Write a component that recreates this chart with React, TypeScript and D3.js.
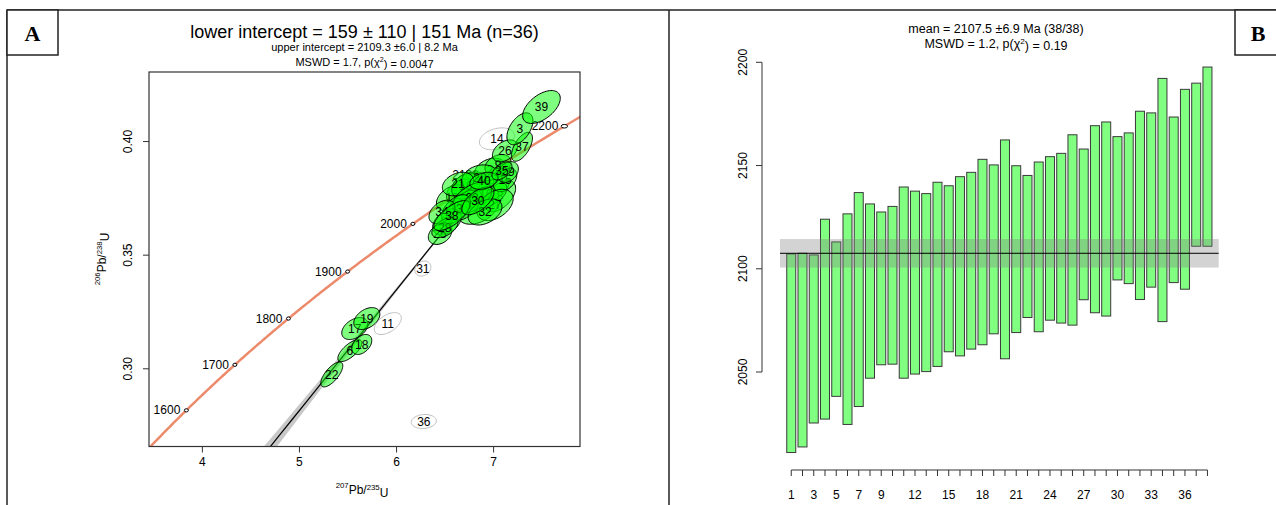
import React from 'react';
import * as d3 from 'd3';

// decay constants, per Ma
const L235 = 9.8485e-4;
const L238 = 1.55125e-4;

// ---- panel A : U-Pb concordia ----
// drawing order = array order (rejected spots first)
const spotLabels = [14, 11, 31, 36, 1, 2, 4, 5, 7, 8, 9, 10, 12, 13, 15, 16, 20, 21, 23, 24, 25, 27, 29, 32, 33, 34, 22, 6, 18, 17, 19, 28, 38, 30, 40, 35, 26, 37, 3, 39];
const spotX = [7.034, 5.910, 6.271, 6.281, 6.757, 6.963, 6.839, 6.984, 6.675, 7.066, 7.045, 6.922, 6.572, 6.705, 7.118, 6.716, 6.860, 6.633, 6.778, 6.520, 6.448, 7.014, 7.148, 6.912, 6.613, 6.468, 5.333, 5.519, 5.642, 5.570, 5.694, 6.498, 6.570, 6.838, 6.900, 7.086, 7.117, 7.292, 7.271, 7.493];
const spotSX = [0.0737, 0.0569, 0.0337, 0.0527, 0.0766, 0.0657, 0.082, 0.0711, 0.0657, 0.0657, 0.0547, 0.0875, 0.0657, 0.0711, 0.0493, 0.0602, 0.0766, 0.0657, 0.082, 0.0602, 0.0493, 0.0766, 0.0438, 0.0711, 0.0602, 0.0547, 0.0463, 0.0505, 0.0421, 0.0548, 0.0548, 0.0548, 0.0758, 0.0674, 0.059, 0.0421, 0.0527, 0.0442, 0.0548, 0.0792];
const spotY = [0.4012, 0.3199, 0.3441, 0.2768, 0.3809, 0.3875, 0.3699, 0.3796, 0.3778, 0.3760, 0.3897, 0.3769, 0.3752, 0.3721, 0.3831, 0.3804, 0.3840, 0.3813, 0.3752, 0.3646, 0.3593, 0.3721, 0.3866, 0.3690, 0.3703, 0.3690, 0.2975, 0.3080, 0.3107, 0.3177, 0.3221, 0.3621, 0.3674, 0.3739, 0.3827, 0.3871, 0.3959, 0.3977, 0.4056, 0.4152];
const spotSY = [0.00197, 0.00197, 0.00135, 0.00126, 0.00234, 0.00211, 0.00257, 0.00234, 0.00234, 0.00281, 0.00187, 0.00257, 0.00234, 0.00281, 0.00211, 0.00234, 0.00234, 0.00211, 0.00281, 0.00234, 0.00187, 0.00281, 0.00187, 0.00234, 0.00257, 0.00211, 0.00224, 0.00197, 0.0018, 0.00197, 0.00197, 0.0018, 0.0027, 0.0025, 0.00153, 0.00162, 0.00197, 0.0026, 0.00287, 0.00296];
const spotRho = [0.3, 0.5, 0.2, 0.1, 0.3, 0.3, 0.4, 0.4, 0.3, 0.5, 0.3, 0.4, 0.4, 0.5, 0.4, 0.3, 0.2, 0.3, 0.5, 0.4, 0.3, 0.4, 0.3, 0.4, 0.5, 0.4, 0.7, 0.7, 0.4, 0.4, 0.4, 0.5, 0.7, 0.6, 0.3, 0.5, 0.4, 0.6, 0.5, 0.53];
const rejected = [14, 11, 31, 36];

const concordiaAges = [1600, 1700, 1800, 1900, 2000, 2100, 2200];
const lowerIntercept = 159;
const upperIntercept = 2109.3;
const aTicksX = [4, 5, 6, 7];
const aTicksY = [0.30, 0.35, 0.40];

// ---- panel B : weighted mean ----
const wmAges = [2059.1, 2060.6, 2066.0, 2075.6, 2075.6, 2075.6, 2085.1, 2089.2, 2090.5, 2092.0, 2093.3, 2093.3, 2093.3, 2097.3, 2100.0, 2101.2, 2103.9, 2108.1, 2109.4, 2109.4, 2109.5, 2110.8, 2110.6, 2114.7, 2114.8, 2118.8, 2121.5, 2124.0, 2124.1, 2129.3, 2129.3, 2130.7, 2133.3, 2133.3, 2133.4, 2138.5, 2150.4, 2154.3];
const wmErr = [48.1, 46.9, 40.7, 48.4, 37.4, 51.0, 51.8, 42.2, 37.0, 38.2, 46.3, 44.3, 43.1, 44.6, 40.2, 43.4, 42.8, 44.9, 40.9, 53.0, 40.4, 34.4, 41.1, 39.6, 41.1, 46.1, 36.5, 45.3, 47.0, 34.7, 36.5, 45.6, 42.2, 58.9, 40.1, 48.4, 39.5, 43.4];
const wmMean = 2107.5;
const wmMeanErr = 6.9;
const bTicksY = [2050, 2100, 2150, 2200];
const bTickLabels = [1, 3, 5, 7, 9, 12, 15, 18, 21, 24, 27, 30, 33, 36];

const FONT = '"Liberation Sans", Arial, Helvetica, sans-serif';
const K95 = 2.4477;

const conc = (t: number) => [Math.exp(L235 * t) - 1, Math.exp(L238 * t) - 1];

export default function App() {
  // scales
  const ax = d3.scaleLinear().domain([3.45, 7.89]).range([149, 580]);
  const ay = d3.scaleLinear().domain([0.2658, 0.4306]).range([446.5, 72]);
  const by = d3.scaleLinear().domain([2050, 2200]).range([372, 62.3]);
  const bx = d3.scaleBand<number>().domain(d3.range(1, wmAges.length + 1))
    .range([780, 1218.7]).paddingInner(0.2).paddingOuter(0.6);
  const bc = (i: number) => (bx(i) as number) + bx.bandwidth() / 2;

  const line = d3.line<number[]>().x(d => ax(d[0])).y(d => ay(d[1]));

  // concordia curve
  const curve = d3.range(1480, 2260, 4).map(conc);

  // discordia + envelope (widens towards the lower intercept)
  const pL = conc(lowerIntercept);
  const pU = conc(upperIntercept);
  const disc = d3.range(0, 1.0001, 0.02).map(s => [pL[0] + s * (pU[0] - pL[0]), pL[1] + s * (pU[1] - pL[1]), s]);
  const hw = (s: number) => 0.006 + 0.55 * (1 - s) * (1 - s);
  const env = disc.map(d => [d[0] - hw(d[2]), d[1]])
    .concat(disc.slice().reverse().map(d => [d[0] + hw(d[2]), d[1]]));

  const ellipse = (i: number) => {
    const r = spotRho[i];
    const pts = d3.range(0, 2 * Math.PI + 0.001, Math.PI / 36).map(t => {
      const u = Math.cos(t), v = Math.sin(t);
      return [spotX[i] + K95 * spotSX[i] * u, spotY[i] + K95 * spotSY[i] * (r * u + Math.sqrt(1 - r * r) * v)];
    });
    return line(pts) + 'Z';
  };

  const sup = (s: string) => <tspan fontSize="0.65em" dy="-0.55em">{s}</tspan>;

  return (
    <svg width={1276} height={505} style={{ position: 'absolute', left: 0, top: 0, background: '#fff' }} fontFamily={FONT}>
      <defs>
        <clipPath id="clipA"><rect x={149} y={72} width={431} height={374.5} /></clipPath>
      </defs>

      {/* figure frame */}
      <g stroke="#222" strokeWidth={1.5} fill="none">
        <line x1={7} y1={10} x2={1276} y2={10} />
        <line x1={7} y1={10} x2={7} y2={505} />
        <line x1={669} y1={10} x2={669} y2={505} />
        <rect x={7} y={10} width={51} height={45} fill="#fff" />
        <rect x={1235} y={10} width={45} height={45} fill="#fff" />
      </g>
      <text x={32.5} y={41} textAnchor="middle" fontFamily='"Liberation Serif", "Times New Roman", serif' fontWeight="bold" fontSize={22}>A</text>
      <text x={1258} y={41} textAnchor="middle" fontFamily='"Liberation Serif", "Times New Roman", serif' fontWeight="bold" fontSize={22}>B</text>

      {/* ===== panel A ===== */}
      <text x={364.5} y={38} textAnchor="middle" fontSize={18}>lower intercept = 159 ± 110 | 151 Ma (n=36)</text>
      <text x={364.5} y={51} textAnchor="middle" fontSize={11}>upper intercept = 2109.3 ±6.0 | 8.2 Ma</text>
      <text x={364.5} y={66} textAnchor="middle" fontSize={11}>MSWD = 1.7, p(χ{sup('2')}<tspan dy="0.55em">) = 0.0047</tspan></text>

      <g clipPath="url(#clipA)">
        <path d={line(curve) as string} fill="none" stroke="#EC8A6C" strokeWidth={2.5} />
        {concordiaAges.map(t => {
          const p = conc(t);
          return (
            <g key={t}>
              <ellipse cx={ax(p[0])} cy={ay(p[1])} rx={t === 2200 ? 3.2 : 2} ry={t === 2200 ? 1.8 : 1.6} fill="#fff" stroke="#000" strokeWidth={1} />
              <text x={ax(p[0]) - 6} y={ay(p[1]) + 4} textAnchor="end" fontSize={12}>{t}</text>
            </g>
          );
        })}
        <path d={line(env) + 'Z'} fill="#c8c8c8" />
        <path d={line(disc) as string} fill="none" stroke="#000" strokeWidth={1.2} />
        {spotLabels.map((lab, i) => {
          const off = rejected.includes(lab);
          return (
            <g key={lab}>
              <path d={ellipse(i)} fill={off ? 'none' : 'rgba(0,255,0,0.5)'} stroke={off ? '#bdbdbd' : '#000'} strokeWidth={1} />
              <text x={ax(spotX[i])} y={ay(spotY[i]) + 4.3} textAnchor="middle" fontSize={12}>{lab}</text>
            </g>
          );
        })}
      </g>

      <rect x={149} y={72} width={431} height={374.5} fill="none" stroke="#333" strokeWidth={1.2} />
      {aTicksX.map(t => (
        <g key={t}>
          <line x1={ax(t)} x2={ax(t)} y1={446.5} y2={452.5} stroke="#333" />
          <text x={ax(t)} y={466} textAnchor="middle" fontSize={12}>{t}</text>
        </g>
      ))}
      {aTicksY.map(t => (
        <g key={t}>
          <line x1={143} x2={149} y1={ay(t)} y2={ay(t)} stroke="#333" />
          <text transform={`translate(132,${ay(t)}) rotate(-90)`} textAnchor="middle" fontSize={12}>{t.toFixed(2)}</text>
        </g>
      ))}
      <text x={362} y={492} textAnchor="middle" fontSize={12}>{sup('207')}<tspan dy="0.55em">Pb/</tspan>{sup('235')}<tspan dy="0.55em">U</tspan></text>
      <text transform="translate(104,259) rotate(-90)" textAnchor="middle" fontSize={12}>{sup('206')}<tspan dy="0.55em">Pb/</tspan>{sup('238')}<tspan dy="0.55em">U</tspan></text>

      {/* ===== panel B ===== */}
      <text x={996} y={33} textAnchor="middle" fontSize={12.5}>mean = 2107.5 ±6.9 Ma (38/38)</text>
      <text x={996} y={48} textAnchor="middle" fontSize={12.5}>MSWD = 1.2, p(χ{sup('2')}<tspan dy="0.55em">) = 0.19</tspan></text>

      {wmAges.map((a, i) => (
        <rect key={i} x={bx(i + 1)} y={by(a + wmErr[i])} width={bx.bandwidth()} height={by(a - wmErr[i]) - by(a + wmErr[i])}
          fill="#80ff80" stroke="#3a3a3a" strokeWidth={1} />
      ))}
      <rect x={780} y={by(wmMean + wmMeanErr)} width={438.7} height={by(wmMean - wmMeanErr) - by(wmMean + wmMeanErr)} fill="rgba(128,128,128,0.35)" />
      <line x1={780} x2={1218.7} y1={by(wmMean)} y2={by(wmMean)} stroke="#000" strokeWidth={1} />

      <line x1={762} x2={762} y1={by(2050)} y2={by(2200)} stroke="#333" />
      {bTicksY.map(t => (
        <g key={t}>
          <line x1={756} x2={762} y1={by(t)} y2={by(t)} stroke="#333" />
          <text transform={`translate(747,${by(t)}) rotate(-90)`} textAnchor="middle" fontSize={12}>{t}</text>
        </g>
      ))}
      <line x1={bc(1)} x2={bc(wmAges.length)} y1={470} y2={470} stroke="#333" />
      {d3.range(1, wmAges.length + 1).map(i => (
        <line key={i} x1={bc(i)} x2={bc(i)} y1={470} y2={476} stroke="#333" />
      ))}
      {bTickLabels.map(i => (
        <text key={i} x={bc(i)} y={499} textAnchor="middle" fontSize={12}>{i}</text>
      ))}
    </svg>
  );
}
